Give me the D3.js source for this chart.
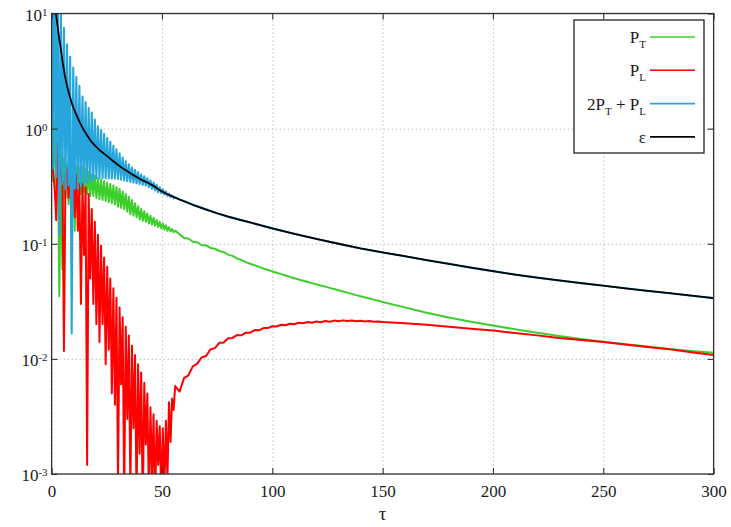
<!DOCTYPE html>
<html>
<head>
<meta charset="utf-8">
<script src="https://cdn.jsdelivr.net/npm/d3@7"></script>
<style>
body { margin: 0; background: #fff; }
svg text { font-family: "Liberation Serif", "Times New Roman", serif; white-space: pre; }
</style>
</head>
<body>
<div id="chart"></div>
<script>
// tick values
var xTicks = [0, 50, 100, 150, 200, 250, 300];
var yTicks = [1e-3, 1e-2, 1e-1, 1, 10];
var yExps = ["-3", "-2", "-1", "0", "1"];

// early, oscillating part (tau 0 .. 56)
var oscTau = [0,0.7,1.4,2.1,2.8,3.5,4.2,4.9,5.6,6.3,
    7,7.7,8.4,9.1,9.8,10.5,11.2,11.9,12.6,13.3,
    14,14.7,15.4,16.1,16.8,17.5,18.2,18.9,19.6,20.3,
    21,21.7,22.4,23.1,23.8,24.5,25.2,25.9,26.6,27.3,
    28,28.7,29.4,30.1,30.8,31.5,32.2,32.9,33.6,34.3,
    35,35.7,36.4,37.1,37.8,38.5,39.2,39.9,40.6,41.3,
    42,42.7,43.4,44.1,44.8,45.5,46.2,46.9,47.6,48.3,
    49,49.7,50.4,51.1,51.8,52.5,53.2,53.9,54.6,55.3,
    56];

var ptOsc = [5,0.35,1.2,0.3,0.7,0.035,0.6,0.06,0.55,0.25,
    0.5,0.22,0.5,0.25,0.48,0.13,0.47,0.28,0.46,0.27,
    0.46,0.28,0.44,0.27,0.42,0.26,0.4,0.26,0.39,0.25,
    0.37,0.245,0.36,0.24,0.35,0.235,0.34,0.23,0.33,0.225,
    0.32,0.22,0.31,0.21,0.3,0.205,0.285,0.2,0.27,0.19,
    0.255,0.18,0.24,0.175,0.225,0.17,0.212,0.163,0.2,0.158,
    0.192,0.155,0.183,0.15,0.175,0.147,0.168,0.143,0.161,0.14,
    0.155,0.136,0.15,0.133,0.145,0.13,0.139,0.128,0.134,0.126,
    0.13];

var plOsc = [10,0.43,0.3,0.16,0.75,0.5,0.4,0.35,0.0117,0.4,
    0.45,0.25,0.42,0.2,0.4,0.17,0.4,0.13,0.33,0.03,
    0.33,0.08,0.31,0.0012,0.27,0.05,0.2,0.03,0.155,0.02,
    0.12,0.014,0.096,0.02,0.076,0.009,0.063,0.012,0.05,0.005,
    0.041,0.004,0.034,0.0008,0.028,0.006,0.023,0.0006,0.019,0.003,
    0.016,0.0007,0.013,0.0025,0.0108,0.0006,0.009,0.0015,0.0076,0.0005,
    0.0062,0.0018,0.005,0.0006,0.0038,0.0009,0.0033,0.0005,0.0029,0.0012,
    0.0026,0.0006,0.0025,0.0007,0.0029,0.0009,0.0042,0.0019,0.0045,0.0036,
    0.0058];

var sumOsc = [60,0.45,30,0.38,17,0.12,11,0.33,7.5,0.3,
    5.4,0.32,4.2,0.0166,3.4,0.3,2.8,0.3,2.35,0.32,
    1.9,0.33,1.7,0.34,1.52,0.35,1.38,0.36,1.2,0.37,
    1.05,0.37,0.97,0.37,0.9,0.37,0.83,0.37,0.77,0.37,
    0.71,0.37,0.66,0.365,0.61,0.36,0.56,0.355,0.52,0.35,
    0.49,0.345,0.46,0.34,0.44,0.335,0.42,0.33,0.4,0.325,
    0.385,0.32,0.37,0.31,0.355,0.3,0.34,0.29,0.325,0.28,
    0.31,0.275,0.297,0.268,0.285,0.26,0.272,0.255,0.262,0.248,
    0.252];

// later part for P_T and P_L
var tailTau = [58,60,62,64,66,68,70,72,74,76,
    78,80,82,84,86,88,90,92,94,96,
    98,100,102,104,106,108,110,112,114,116,
    118,120,122,124,126,128,130,132,134,136,
    138,140,142,144,146,148,150,
    160,170,180,190,200,210,220,230,240,250,260,270,280,290,300];

var ptTail = [0.121,0.112,0.111,0.104,0.103,0.097,0.097,0.092,0.0905,0.0865,
    0.0845,0.0805,0.0785,0.0745,0.0722,0.0692,0.067,0.065,0.063,0.061,
    0.0592,0.0575,0.056,0.0545,0.053,0.0515,0.0502,0.0489,0.0477,0.0466,
    0.0455,0.0444,0.0434,0.0424,0.0414,0.0404,0.0394,0.0385,0.0376,0.0367,
    0.0358,0.035,0.0342,0.0334,0.0327,0.032,0.0312,
    0.028,0.0252,0.0229,0.021,0.0195,0.0181,0.0169,0.0158,0.0149,0.0141,0.0134,0.0128,0.0122,0.0117,0.0113];

var plTail = [0.0052,0.0068,0.0072,0.0086,0.0091,0.0103,0.0106,0.0121,0.0124,0.0138,
    0.0139,0.0151,0.0152,0.0161,0.016,0.0169,0.0169,0.0178,0.0177,0.0185,
    0.0185,0.0192,0.0191,0.0198,0.0196,0.0202,0.02,0.0206,0.0204,0.0209,
    0.0206,0.0211,0.0208,0.0213,0.021,0.0215,0.0212,0.0216,0.0213,0.0215,
    0.0212,0.0214,0.0211,0.0213,0.021,0.0211,0.0209,
    0.0204,0.0198,0.019,0.0183,0.0176,0.0168,0.016,0.0152,0.0146,0.014,0.0133,0.0127,0.0121,0.0114,0.0108];

// later part for 2P_T+P_L and epsilon
var coarseTau = [58,60,65,70,75,80,85,90,100,110,120,130,140,150,160,170,180,190,200,210,220,230,240,250,260,270,280,290,300];
var sumTail = [0.243,0.235,0.215,0.199,0.184,0.172,0.162,0.153,0.136,0.122,0.11,0.1,0.091,0.084,0.078,0.072,0.067,0.062,0.0578,0.054,0.0508,0.048,0.0455,0.0432,0.041,0.039,0.0372,0.0354,0.0337];
var epsTail = [0.242,0.234,0.214,0.198,0.184,0.172,0.162,0.153,0.136,0.122,0.11,0.1,0.091,0.084,0.078,0.072,0.067,0.062,0.0578,0.054,0.0508,0.048,0.0455,0.0432,0.041,0.039,0.0372,0.0354,0.0337];

// epsilon, early smooth part
var epsTau = [0.3,0.5,1,1.5,2,2.5,3,3.5,4,5,6,7,8,9,10,11,12,13,14,16,18,20,22,24,26,28,30,32,34,36,38,40,42,44,46,48,50,52,54,56];
var epsVal = [60,40,22,12.5,10,8.3,7,6,5.2,3.8,2.9,2.35,1.98,1.7,1.5,1.35,1.22,1.11,1.02,0.88,0.77,0.7,0.645,0.6,0.56,0.52,0.485,0.455,0.43,0.405,0.385,0.365,0.35,0.335,0.32,0.3,0.285,0.272,0.262,0.252];

function zip(ts, vs) {
    return ts.map(function(t, i) { return [t, vs[i]]; });
}

var series = [
    {key: "PT", color: "#3ccf2c", width: 2, pts: zip(oscTau, ptOsc).concat(zip(tailTau, ptTail))},
    {key: "PL", color: "#ff0000", width: 2, pts: zip(oscTau, plOsc).concat(zip(tailTau, plTail))},
    {key: "sum", color: "#26a6dc", width: 2.1, pts: zip(oscTau, sumOsc).concat(zip(coarseTau, sumTail))},
    {key: "eps", color: "#000000", width: 1.8, pts: zip(epsTau, epsVal).concat(zip(coarseTau, epsTail))}
];

function drawChart() {
    var W = 731, H = 527;
    var pl = 51.6, pr = 713.6, pt = 13.5, pb = 474;

    var x = d3.scaleLinear().domain([0, 300]).range([pl, pr]);
    var y = d3.scaleLog().domain([1e-3, 10]).range([pb, pt]);

    var svg = d3.select("#chart").append("svg")
        .attr("width", W)
        .attr("height", H);

    // dotted grid
    var gx = svg.append("g")
        .attr("transform", "translate(0," + pb + ")")
        .call(d3.axisBottom(x).tickValues(xTicks).tickSize(-(pb - pt)).tickFormat(""));
    var gy = svg.append("g")
        .attr("transform", "translate(" + pl + ",0)")
        .call(d3.axisLeft(y).tickValues(yTicks).tickSize(-(pr - pl)).tickFormat(""));
    [gx, gy].forEach(function(g) {
        g.select(".domain").remove();
        g.selectAll("line")
            .attr("stroke", "#b4b4b4")
            .attr("stroke-width", 0.8)
            .attr("stroke-dasharray", "1.5,2.5");
    });

    svg.append("clipPath").attr("id", "plotClip")
        .append("rect")
        .attr("x", pl).attr("y", pt)
        .attr("width", pr - pl).attr("height", pb - pt);

    var line = d3.line()
        .x(d => x(d[0]))
        .y(d => y(d[1]));

    svg.append("g")
        .attr("clip-path", "url(#plotClip)")
        .selectAll("path")
        .data(series)
        .enter()
        .append("path")
        .attr("d", d => line(d.pts))
        .attr("fill", "none")
        .attr("stroke", d => d.color)
        .attr("stroke-width", d => d.width)
        .attr("stroke-linejoin", "round");

    // axes with inward ticks
    var xAxis = svg.append("g")
        .attr("transform", "translate(0," + pb + ")")
        .call(d3.axisBottom(x).tickValues(xTicks).tickSize(-6).tickPadding(11).tickFormat(d3.format("d")));
    var yAxis = svg.append("g")
        .attr("transform", "translate(" + pl + ",0)")
        .call(d3.axisLeft(y).tickValues(yTicks).tickSize(-6).tickPadding(4).tickFormat(""));
    var xTop = svg.append("g")
        .attr("transform", "translate(0," + pt + ")")
        .call(d3.axisTop(x).tickValues(xTicks).tickSize(-6).tickFormat(""));
    var yRight = svg.append("g")
        .attr("transform", "translate(" + pr + ",0)")
        .call(d3.axisRight(y).tickValues(yTicks).tickSize(-6).tickFormat(""));

    [xAxis, yAxis, xTop, yRight].forEach(function(g) {
        g.select(".domain").remove();
        g.attr("font-size", 17)
            .attr("font-family", "'Liberation Serif', serif")
            .attr("color", "#1a1a1a");
        g.selectAll("line").attr("stroke", "#333").attr("stroke-width", 1.1);
    });

    yAxis.selectAll(".tick text").each(function(d, i) {
        var t = d3.select(this).attr("dy", "0.4em");
        t.append("tspan").text("10");
        t.append("tspan").attr("dy", "-0.48em").attr("font-size", 11).text(yExps[i]);
    });

    // frame
    svg.append("rect")
        .attr("x", pl).attr("y", pt)
        .attr("width", pr - pl).attr("height", pb - pt)
        .attr("fill", "none")
        .attr("stroke", "#333")
        .attr("stroke-width", 1.3);

    svg.append("text")
        .attr("x", (pl + pr) / 2)
        .attr("y", 520)
        .attr("text-anchor", "middle")
        .attr("font-size", 19)
        .attr("fill", "#1a1a1a")
        .text("\u03c4");

    // legend
    var legend = svg.append("g");
    legend.append("rect")
        .attr("x", 574).attr("y", 20)
        .attr("width", 130).attr("height", 133)
        .attr("fill", "#fff")
        .attr("stroke", "#222")
        .attr("stroke-width", 1.3);

    var legendLabels = [
        [["P", 0], ["T", 1]],
        [["P", 0], ["L", 1]],
        [["2P", 0], ["T", 1], [" + P", 0], ["L", 1]],
        [["\u03b5", 0]]
    ];

    series.forEach(function(s, i) {
        var ly = 37 + i * 33.3;
        legend.append("line")
            .attr("x1", 650).attr("x2", 695)
            .attr("y1", ly).attr("y2", ly)
            .attr("stroke", s.color)
            .attr("stroke-width", 1.6);
        var txt = legend.append("text")
            .attr("x", 646)
            .attr("y", ly + 6)
            .attr("text-anchor", "end")
            .attr("font-size", 17)
            .attr("fill", "#1a1a1a");
        var shifted = 0;
        legendLabels[i].forEach(function(part) {
            var sp = txt.append("tspan").text(part[0]);
            if (part[1] === 1) {
                sp.attr("dy", 5).attr("font-size", 11);
                shifted = 1;
            } else if (shifted) {
                sp.attr("dy", -5);
                shifted = 0;
            }
        });
    });
}

drawChart();
</script>
</body>
</html>
